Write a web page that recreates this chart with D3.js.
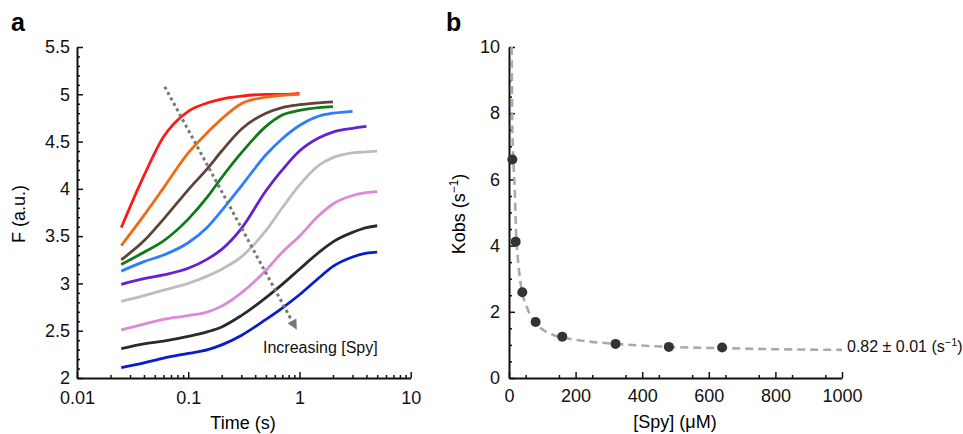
<!DOCTYPE html>
<html>
<head>
<meta charset="utf-8">
<script src="https://cdn.jsdelivr.net/npm/d3@7"></script>
<style>
  body { margin: 0; background: #fff; }
  svg { display: block; font-family: "Liberation Sans", Arial, Helvetica, sans-serif; }
</style>
</head>
<body>
<svg id="chart" width="963" height="434"></svg>
<script>
// panel a: fluorescence traces (log time), panel b: kobs vs [Spy]

// --- panel a data ---
let times = [0.025, 0.04, 0.06, 0.1, 0.15, 0.2, 0.3, 0.5, 0.7, 1, 1.5, 2, 3, 4, 5];
let traceColors = ["#ff1a1a", "#f06a14", "#5e4438", "#107a16", "#2e7cff", "#6420d2", "#bdbdbd", "#dc88dc", "#2a2a2a", "#0a1ccc"];
// each trace runs along times until its own end
let traceRed    = [3.59, 4.14, 4.55, 4.82, 4.91, 4.95, 4.98, 5.00, 5.00, 5.01];
let traceOrange = [3.40, 3.72, 4.01, 4.38, 4.60, 4.74, 4.90, 4.97, 4.99, 5.00];
let traceBrown  = [3.25, 3.45, 3.68, 3.99, 4.22, 4.40, 4.63, 4.80, 4.86, 4.89, 4.91, 4.92];
let traceGreen  = [3.20, 3.33, 3.45, 3.68, 3.92, 4.12, 4.38, 4.66, 4.78, 4.83, 4.86, 4.87];
let traceBlue   = [3.13, 3.23, 3.30, 3.43, 3.60, 3.77, 4.03, 4.36, 4.53, 4.67, 4.77, 4.80, 4.82];
let tracePurple = [2.99, 3.05, 3.09, 3.16, 3.26, 3.36, 3.58, 3.98, 4.20, 4.40, 4.54, 4.60, 4.64, 4.66];
let traceGray   = [2.81, 2.87, 2.93, 3.00, 3.08, 3.15, 3.28, 3.56, 3.80, 4.04, 4.25, 4.33, 4.38, 4.39, 4.40];
let tracePink   = [2.51, 2.57, 2.62, 2.66, 2.70, 2.76, 2.90, 3.14, 3.33, 3.50, 3.72, 3.84, 3.93, 3.96, 3.97];
let traceBlack  = [2.31, 2.36, 2.39, 2.44, 2.49, 2.54, 2.66, 2.85, 2.99, 3.15, 3.33, 3.44, 3.54, 3.59, 3.61];
let traceNavy   = [2.11, 2.16, 2.21, 2.26, 2.30, 2.35, 2.45, 2.62, 2.74, 2.88, 3.06, 3.18, 3.28, 3.32, 3.33];
let allTraces = [traceRed, traceOrange, traceBrown, traceGreen, traceBlue, tracePurple, traceGray, tracePink, traceBlack, traceNavy];

let arrowFrom = [0.0615, 5.08];
let arrowTo = [0.946, 2.51];
let arrowText = "Increasing [Spy]";
let arrowTextAt = [0.47, 2.264];

let aXTicks = [0.01, 0.1, 1, 10];
let aYTicks = [2, 2.5, 3, 3.5, 4, 4.5, 5, 5.5];

// --- panel b data ---
let spyConc = [10, 20, 40, 80, 160, 320, 480, 640];
let kobs = [6.6, 4.12, 2.59, 1.69, 1.25, 1.03, 0.94, 0.92];
let fitX = [8, 10, 13, 18, 21, 26, 31, 38, 53, 73, 103, 133, 173, 243, 323, 483, 643, 800, 1000];
let fitY = [10, 7.5, 6.6, 5.48, 4.47, 3.67, 3.16, 2.66, 2.16, 1.75, 1.45, 1.30, 1.20, 1.10, 1.03, 0.94, 0.90, 0.87, 0.85];
let bXTicks = [0, 200, 400, 600, 800, 1000];
let bYTicks = [0, 2, 4, 6, 8, 10];
let plateauLabel = "0.82 \u00b1 0.01 (s";

let svg = d3.select("#chart");
let font = 18;

// ---------- panel a ----------
let xA = d3.scaleLog().domain([0.01, 10]).range([77, 410.7]);
let yA = d3.scaleLinear().domain([2, 5.5]).range([378, 47]);

let gA = svg.append("g");

let minorA = [];
for (let d = 0.01; d < 10; d *= 10) {
    for (let k = 2; k <= 9; k++) minorA.push(+(d * k).toPrecision(3));
}
gA.append("g")
    .attr("transform", "translate(0,378)")
    .call(d3.axisBottom(xA).tickValues(minorA).tickFormat("").tickSize(-3).tickSizeOuter(0))
    .call(g => g.select(".domain").remove());
gA.append("g")
    .attr("transform", "translate(0,378)")
    .call(d3.axisBottom(xA).tickValues(aXTicks).tickFormat(d3.format("~g")).tickSize(-6).tickSizeOuter(0).tickPadding(13));

let minorAY = d3.range(20, 56).map(v => v / 10).filter(v => !aYTicks.includes(v));
gA.append("g")
    .attr("transform", "translate(77,0)")
    .call(d3.axisLeft(yA).tickValues(minorAY).tickFormat("").tickSize(-3).tickSizeOuter(0))
    .call(g => g.select(".domain").remove());
gA.append("g")
    .attr("transform", "translate(77,0)")
    .call(d3.axisLeft(yA).tickValues(aYTicks).tickFormat(d3.format("~g")).tickSize(-6).tickSizeOuter(0).tickPadding(7));

let lineA = d3.line()
    .x((d, i) => xA(times[i]))
    .y(d => yA(d))
    .curve(d3.curveMonotoneX);

gA.selectAll(".trace")
    .data(allTraces)
    .join("path")
    .attr("class", "trace")
    .attr("fill", "none")
    .attr("stroke", (d, i) => traceColors[i])
    .attr("stroke-width", 2.8)
    .attr("d", d => lineA(d));

// dotted arrow
let ax0 = xA(arrowFrom[0]), ay0 = yA(arrowFrom[1]);
let ax1 = xA(arrowTo[0]), ay1 = yA(arrowTo[1]);
let len = Math.hypot(ax1 - ax0, ay1 - ay0);
let ux = (ax1 - ax0) / len, uy = (ay1 - ay0) / len;
let headLen = 10, headW = 5;
gA.append("line")
    .attr("x1", ax0).attr("y1", ay0)
    .attr("x2", ax1 - ux * headLen).attr("y2", ay1 - uy * headLen)
    .attr("stroke", "#777")
    .attr("stroke-width", 3)
    .attr("stroke-dasharray", "3 3.2");
let bx = ax1 - ux * headLen, by = ay1 - uy * headLen;
gA.append("polygon")
    .attr("points", [
        [ax1, ay1],
        [bx - uy * headW, by + ux * headW],
        [bx + uy * headW, by - ux * headW]
    ].map(p => p.join(",")).join(" "))
    .attr("fill", "#777");

gA.append("text")
    .attr("x", xA(arrowTextAt[0]))
    .attr("y", yA(arrowTextAt[1]))
    .attr("font-size", 16)
    .attr("fill", "#111")
    .text(arrowText);

gA.append("text")
    .attr("transform", "translate(24.5,214) rotate(-90)")
    .attr("text-anchor", "middle")
    .attr("font-size", font)
    .text("F (a.u.)");
gA.append("text")
    .attr("x", 243).attr("y", 429)
    .attr("text-anchor", "middle")
    .attr("font-size", font)
    .text("Time (s)");

svg.append("text")
    .attr("x", 11).attr("y", 31)
    .attr("font-size", 25).attr("font-weight", "bold")
    .text("a");

// ---------- panel b ----------
let xB = d3.scaleLinear().domain([0, 1000]).range([509, 842]);
let yB = d3.scaleLinear().domain([0, 10]).range([378, 47]);
let gB = svg.append("g");

gB.append("g")
    .attr("transform", "translate(0,378)")
    .call(d3.axisBottom(xB).tickValues(d3.range(50, 1000, 100)).tickFormat("").tickSize(-3).tickSizeOuter(0))
    .call(g => g.select(".domain").remove());
gB.append("g")
    .attr("transform", "translate(0,378)")
    .call(d3.axisBottom(xB).tickValues(bXTicks).tickFormat(d3.format("d")).tickSize(-6).tickSizeOuter(0).tickPadding(11));
gB.append("g")
    .attr("transform", "translate(509,0)")
    .call(d3.axisLeft(yB).tickValues(d3.range(0, 10.01, 0.5).filter(v => v % 2 !== 0)).tickFormat("").tickSize(-3).tickSizeOuter(0))
    .call(g => g.select(".domain").remove());
gB.append("g")
    .attr("transform", "translate(509,0)")
    .call(d3.axisLeft(yB).tickValues(bYTicks).tickFormat(d3.format("d")).tickSize(-6).tickSizeOuter(0).tickPadding(9));

let fitData = fitX.map((x, i) => [x, fitY[i]]);
gB.append("path")
    .datum(fitData)
    .attr("fill", "none")
    .attr("stroke", "#aaa")
    .attr("stroke-width", 2.6)
    .attr("stroke-dasharray", "8 5")
    .attr("d", d3.line().x(d => xB(d[0])).y(d => yB(d[1])).curve(d3.curveMonotoneX));

gB.selectAll(".pt")
    .data(spyConc)
    .join("circle")
    .attr("class", "pt")
    .attr("cx", d => xB(d))
    .attr("cy", (d, i) => yB(kobs[i]))
    .attr("r", 5)
    .attr("fill", "#333");

let plat = gB.append("text")
    .attr("x", 847).attr("y", 352)
    .attr("font-size", 16)
    .attr("fill", "#111")
    .text(plateauLabel);
plat.append("tspan").attr("dy", -6).attr("font-size", 11).text("\u22121");
plat.append("tspan").attr("dy", 6).text(")");

let kl = gB.append("text")
    .attr("transform", "translate(465,214) rotate(-90)")
    .attr("text-anchor", "middle")
    .attr("font-size", font)
    .text("Kobs (s");
kl.append("tspan").attr("dy", -7).attr("font-size", 12).text("\u22121");
kl.append("tspan").attr("dy", 7).text(")");

gB.append("text")
    .attr("x", 675).attr("y", 428)
    .attr("text-anchor", "middle")
    .attr("font-size", font)
    .text("[Spy] (\u03bcM)");

svg.append("text")
    .attr("x", 446).attr("y", 31)
    .attr("font-size", 25).attr("font-weight", "bold")
    .text("b");

// axis styling
svg.selectAll(".domain").attr("stroke", "#111").attr("stroke-width", 2);
svg.selectAll(".tick line").attr("stroke", "#111").attr("stroke-width", 1.5);
svg.selectAll(".tick text").attr("font-size", font).attr("fill", "#111")
    .attr("font-family", "'Liberation Sans', Arial, Helvetica, sans-serif");
</script>
</body>
</html>
